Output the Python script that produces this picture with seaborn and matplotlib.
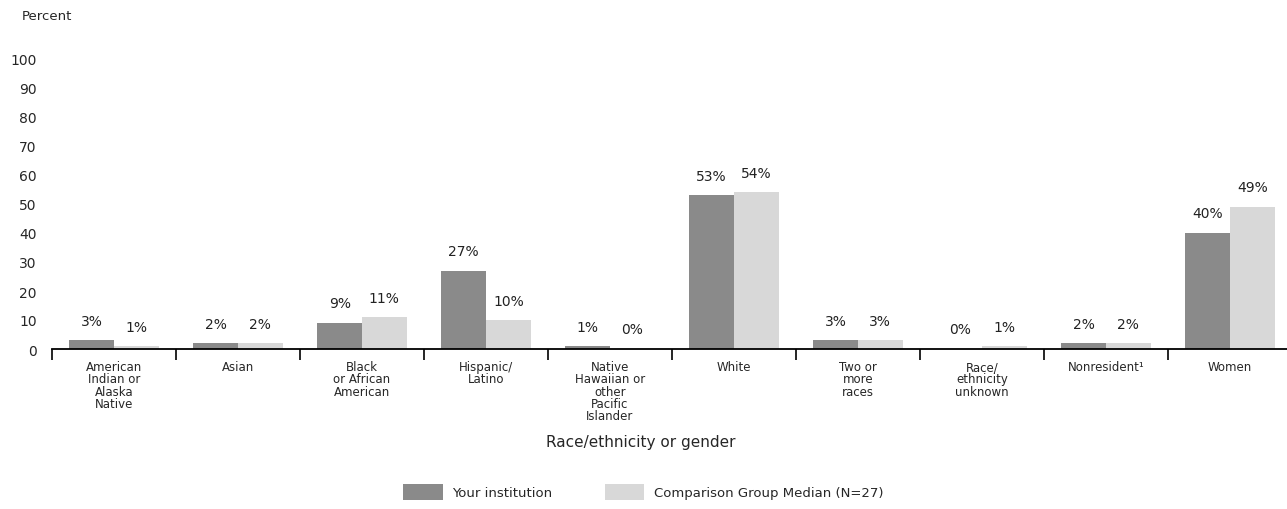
import matplotlib
matplotlib.use("Agg")
import matplotlib.pyplot as plt
import pandas as pd
import seaborn as sns

# data
categories = [
    "American\nIndian or\nAlaska\nNative",
    "Asian",
    "Black\nor African\nAmerican",
    "Hispanic/\nLatino",
    "Native\nHawaiian or\nother\nPacific\nIslander",
    "White",
    "Two or\nmore\nraces",
    "Race/\nethnicity\nunknown",
    "Nonresident\u00b9",
    "Women",
]
your_institution = [3, 2, 9, 27, 1, 53, 3, 0, 2, 40]
comparison_median = [1, 2, 11, 10, 0, 54, 3, 1, 2, 49]
series_names = ["Your institution", "Comparison Group Median (N=27)"]
y_ticks = list(range(0, 101, 10))

df = pd.DataFrame({
    "category": categories,
    series_names[0]: your_institution,
    series_names[1]: comparison_median,
})
df_long = df.melt(id_vars="category", var_name="series", value_name="value")

sns.set_style("white")
plt.rcParams["font.family"] = ["DejaVu Sans"]

W, H = 1287, 510
fig = plt.figure(figsize=(W / 100, H / 100), dpi=100)
ax = fig.add_axes([52 / W, 1 - 350 / H, (W - 52) / W, 290 / H])

sns.barplot(data=df_long, x="category", y="value", hue="series",
            palette=["#8a8a8a", "#d8d8d8"], saturation=1, width=0.72,
            linewidth=0, ax=ax)

for container, vals in zip(ax.containers, [your_institution, comparison_median]):
    ax.bar_label(container, labels=[f"{v}%" for v in vals], padding=9,
                 fontsize=10, color="#222222")

ax.set_ylim(0, 100)
ax.set_xlim(-0.5, 9.5 - 5 / 124)
ax.set_yticks(y_ticks)
ax.set_xticks([i - 0.5 for i in range(10)], minor=True)
ax.tick_params(axis="y", length=0, pad=11, labelsize=10)
ax.tick_params(axis="x", which="major", length=0, pad=8, labelsize=8.5)
ax.tick_params(axis="x", which="minor", length=8, width=1.2, direction="out",
               color="black", bottom=True)
for lbl in ax.get_xticklabels():
    lbl.set_linespacing(0.92)
ax.set_xlabel("")
ax.set_ylabel("")
sns.despine(ax=ax, left=True)
ax.spines["bottom"].set_linewidth(1.3)
ax.spines["bottom"].set_color("black")

handles, labels = ax.get_legend_handles_labels()
ax.get_legend().remove()
fig.legend(handles, labels, loc="center", bbox_to_anchor=(643 / W, 1 - 493 / H),
           ncol=2, frameon=False, fontsize=9.5, handlelength=3.0,
           handleheight=1.5, handletextpad=0.7, columnspacing=4.0)

fig.text(641 / W, 1 - 443 / H, "Race/ethnicity or gender", ha="center",
         va="center", fontsize=11)
fig.text(22 / W, 1 - 16 / H, "Percent", ha="left", va="center", fontsize=9.5)

fig.savefig("out.png", dpi=100)
